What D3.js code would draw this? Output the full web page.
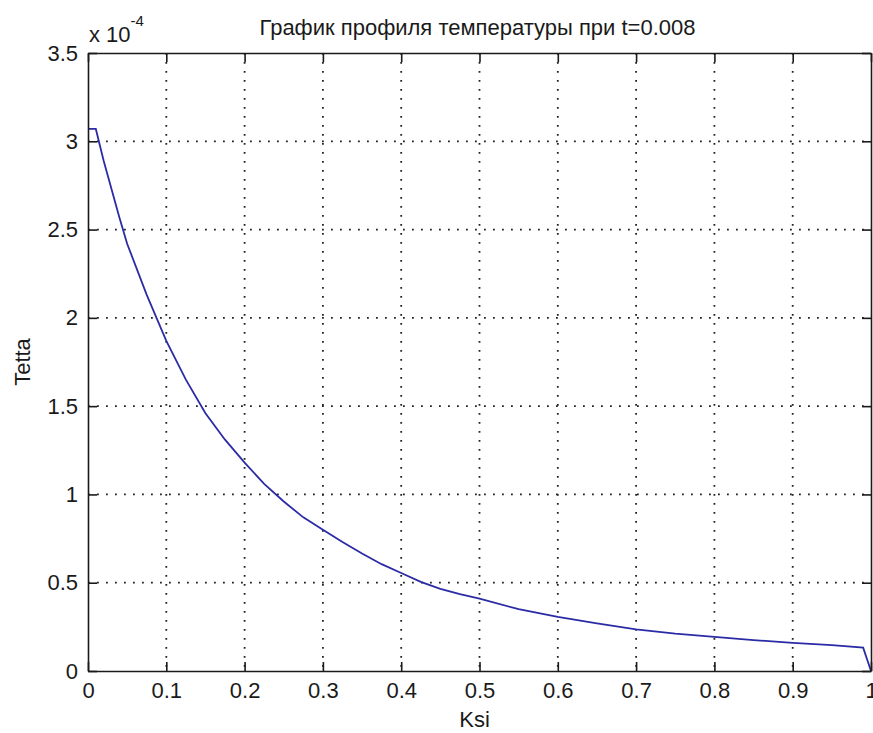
<!DOCTYPE html>
<html>
<head>
<meta charset="utf-8">
<script src="https://cdn.jsdelivr.net/npm/d3@7"></script>
<style>
  html, body { margin: 0; padding: 0; background: #ffffff; }
  svg text { font-family: "Liberation Sans", Arial, sans-serif; fill: #1a1a1a; }
</style>
</head>
<body>
<div id="chart"></div>
<script>
var ksi = [0, 0.01, 0.02, 0.03, 0.04, 0.05, 0.075, 0.1, 0.125, 0.15, 0.175, 0.2, 0.225, 0.25,
           0.275, 0.3, 0.325, 0.35, 0.375, 0.4, 0.425, 0.45, 0.475, 0.5,
           0.55, 0.6, 0.65, 0.7, 0.75, 0.8, 0.85, 0.9, 0.95, 0.99, 1.0];
var tetta = [3.07, 3.07, 2.89, 2.73, 2.57, 2.42, 2.13, 1.87, 1.65, 1.46, 1.31, 1.18, 1.06, 0.96,
             0.87, 0.80, 0.73, 0.665, 0.605, 0.555, 0.505, 0.465, 0.435, 0.41,
             0.35, 0.306, 0.27, 0.236, 0.212, 0.193, 0.175, 0.159, 0.146, 0.132, 0.0];
var xTicks = [0, 0.1, 0.2, 0.3, 0.4, 0.5, 0.6, 0.7, 0.8, 0.9, 1];
var yTicks = [0, 0.5, 1, 1.5, 2, 2.5, 3, 3.5];
var titleText = 'График профиля температуры при t=0.008';

(function(){

  var width = 873;
  var height = 733;
  var margin = {top: 53, right: 2, bottom: 62, left: 88};
  var w = width - margin.left - margin.right;
  var h = height - margin.top - margin.bottom;
  var fs = 22;

  var svg = d3.select('#chart')
        .append('svg')
        .attr('width', width)
        .attr('height', height);

  var g = svg.append('g')
        .attr('transform', 'translate(' + margin.left + ',' + margin.top + ')');

  var x = d3.scaleLinear().domain([0, 1]).range([0, w]);
  var y = d3.scaleLinear().domain([0, 3.5]).range([h, 0]);
  var fmt = function(d){ return String(+d.toFixed(1)); };

  // dotted grid
  g.selectAll('.vgrid')
    .data(xTicks.slice(1, -1))
    .enter()
    .append('line')
      .attr('x1', function(d){ return x(d); })
      .attr('x2', function(d){ return x(d); })
      .attr('y1', 0)
      .attr('y2', h)
      .attr('stroke', '#222')
      .attr('stroke-width', 1.8)
      .attr('stroke-dasharray', '1.8,7.2');

  g.selectAll('.hgrid')
    .data(yTicks.slice(1, -1))
    .enter()
    .append('line')
      .attr('x1', 0)
      .attr('x2', w)
      .attr('y1', function(d){ return y(d); })
      .attr('y2', function(d){ return y(d); })
      .attr('stroke', '#222')
      .attr('stroke-width', 1.8)
      .attr('stroke-dasharray', '1.8,7.2');

  // curve
  var line = d3.line()
      .x(function(d, i){ return x(ksi[i]); })
      .y(function(d){ return y(d); });

  g.append('path')
    .datum(tetta)
    .attr('d', line)
    .attr('fill', 'none')
    .attr('stroke', '#2b2ba6')
    .attr('stroke-width', 1.8);

  // axes with inward ticks on all four sides
  var styleAxis = function(sel){
    sel.select('.domain').attr('stroke', '#1a1a1a').attr('stroke-width', 1.6);
    sel.selectAll('.tick line').attr('stroke', '#1a1a1a').attr('stroke-width', 1.6);
    sel.selectAll('.tick text')
      .attr('font-size', fs + 'px')
      .attr('fill', '#1a1a1a');
  };

  var bottom = g.append('g')
      .attr('transform', 'translate(0,' + h + ')')
      .call(d3.axisBottom(x).tickValues(xTicks).tickFormat(fmt)
            .tickSizeInner(-9).tickSizeOuter(0).tickPadding(11));
  styleAxis(bottom);
  bottom.selectAll('.tick text').attr('dy', '0.71em');

  var top = g.append('g')
      .call(d3.axisTop(x).tickValues(xTicks).tickFormat('')
            .tickSizeInner(-9).tickSizeOuter(0));
  styleAxis(top);

  var left = g.append('g')
      .call(d3.axisLeft(y).tickValues(yTicks).tickFormat(fmt)
            .tickSizeInner(-9).tickSizeOuter(0).tickPadding(10));
  styleAxis(left);

  var right = g.append('g')
      .attr('transform', 'translate(' + w + ',0)')
      .call(d3.axisRight(y).tickValues(yTicks).tickFormat('')
            .tickSizeInner(-9).tickSizeOuter(0));
  styleAxis(right);

  // exponent label
  var expo = svg.append('text')
      .attr('x', 89)
      .attr('y', 42)
      .attr('font-size', fs + 'px');
  expo.append('tspan').text('x 10');
  expo.append('tspan')
      .attr('dy', -16)
      .attr('font-size', '15px')
      .text('-4');

  // title and axis labels
  svg.append('text')
    .attr('x', margin.left + w / 2 - 2)
    .attr('y', 35)
    .attr('text-anchor', 'middle')
    .attr('font-size', fs + 'px')
    .text(titleText);

  svg.append('text')
    .attr('x', margin.left + w / 2 - 5)
    .attr('y', 727)
    .attr('text-anchor', 'middle')
    .attr('font-size', fs + 'px')
    .text('Ksi');

  svg.append('text')
    .attr('transform', 'translate(30,' + (margin.top + h / 2) + ') rotate(-90)')
    .attr('text-anchor', 'middle')
    .attr('font-size', fs + 'px')
    .text('Tetta');

})();
</script>
</body>
</html>
